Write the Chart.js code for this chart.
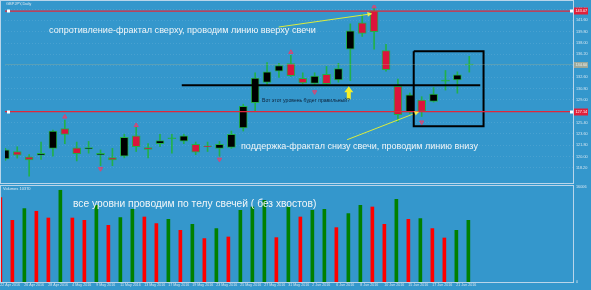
<!DOCTYPE html>
<html>
<head>
<meta charset="utf-8">
<script src="https://cdn.jsdelivr.net/npm/chart.js@4.4.1/dist/chart.umd.min.js"></script>
<style>
  html, body { margin: 0; padding: 0; background: #3497cc; }
  #wrap { position: relative; width: 591px; height: 290px; overflow: hidden; background: #3497cc; font-family: "Liberation Sans", Arial, sans-serif; }
  canvas { position: absolute; left: 0; }
  #price { top: 0; }
  #vol { top: 185px; }
  .frame { position: absolute; border: 1px solid #b9d5ea; box-sizing: border-box; pointer-events: none; }
  .note { position: absolute; white-space: nowrap; color: #f2f6f8; font-size: 10px; line-height: 1; }
  .tiny { position: absolute; white-space: nowrap; color: #dce9f2; font-size: 4px; line-height: 1; }
</style>
</head>
<body>
<div id="wrap">
  <canvas id="price" width="591" height="183"></canvas>
  <canvas id="vol" width="591" height="105"></canvas>
  <div class="frame" style="left:0;top:0;width:574px;height:184px;"></div>
  <div class="frame" style="left:0;top:185px;width:574px;height:98px;"></div>
  <div class="tiny" style="left:6px;top:1.5px;">GBPJPY,Daily</div>
  <div class="tiny" id="volLabel" style="left:3px;top:186.5px;"></div>
  <div class="note" style="left:49px;top:25.6px;font-size:9.1px;">сопротивление-фрактал сверху, проводим линию вверху свечи</div>
  <div class="note" style="left:241px;top:142.4px;font-size:9px;">поддержка-фрактал снизу свечи, проводим линию внизу</div>
  <div class="note" style="left:73px;top:199px;font-size:10.25px;">все уровни проводим по телу свечей ( без хвостов)</div>
  <div class="note" style="left:262px;top:98.2px;font-size:5.1px;color:#0c2038;">Вот этот уровень будет правильный?</div>
</div>
<script>
// свечи (дневные), значения
const openP  = [119.64,120.80,119.94,120.20,121.29,124.44,121.40,121.20,120.24,119.85,120.05,123.30,121.44,122.04,122.90,122.45,121.95,121.70,121.29,121.44,124.55,128.55,131.75,133.55,134.75,132.39,131.60,133.05,132.15,137.04,141.20,143.07,136.80,131.15,127.05,128.94,128.75,132.05,132.15,134.60];
const highP  = [121.30,121.55,120.30,122.30,124.20,125.79,122.30,122.40,121.05,121.29,123.54,124.65,122.04,123.54,123.54,123.54,122.30,122.30,122.40,124.05,128.30,133.29,134.90,134.79,136.05,133.29,133.29,134.30,134.79,141.05,142.55,143.55,137.79,132.30,130.10,129.50,130.95,133.65,133.44,135.90];
const lowP   = [119.40,119.75,116.90,119.55,120.05,122.04,119.30,120.54,118.55,118.55,119.79,120.80,119.79,121.55,120.54,122.04,120.30,120.80,120.05,121.29,124.05,127.29,131.30,132.54,132.70,131.55,131.30,131.30,131.79,132.05,139.05,137.04,133.55,125.55,126.80,126.35,128.64,130.55,130.05,133.40];
const closeP = [121.05,120.20,119.45,120.50,124.05,123.50,120.45,121.44,120.50,119.45,123.05,121.55,121.14,122.55,122.90,123.30,120.69,121.55,121.95,123.54,127.95,132.45,133.44,134.45,132.84,131.70,132.75,131.55,133.95,139.95,139.55,139.80,133.80,126.65,129.80,127.14,129.90,132.05,132.95,134.60];
const volumes = [14190,10370,12340,11890,10760,15420,10760,10370,12890,9530,10830,12220,10930,9820,10540,8690,9700,7300,8980,7570,12050,12610,13730,7460,12610,10930,12050,12220,9140,11500,12890,12610,9700,13900,10540,10660,8980,7400,8690,10370];

// фракталы
const fracUpIdx = [5, 11, 24, 31];
const fracUpVal = [126.30, 124.95, 136.55, 143.79];
const fracDnIdx = [8, 18, 26, 35];
const fracDnVal = [118.05, 119.55, 130.25, 125.45];

// уровни и разметка
const resistance = 143.07;
const support = 127.14;
const levelLine = { from: 14.83, to: 39.92, y: 131.30 };
const box = { x1: 34.33, x2: 40.2, y1: 124.80, y2: 136.70 };
const arrow1 = [{ x: 22.98, y: 140.55 }, { x: 30.81, y: 142.65 }];
const arrow2 = [{ x: 28.73, y: 122.67 }, { x: 34.77, y: 127.10 }];
const bigArrow = { x: 28.87, y: 131.30 };

// шкалы
const priceTicks = [118.2,120.0,121.8,123.6,125.4,127.2,129.0,130.8,132.6,134.4,136.2,138.0,139.8,141.6,143.4];
const volTicks = [0, 16006];
const dateIdx = [0,2,4,6,8,10,12,14,16,18,20,22,24,26,28,30,32,34,36,38];
const dateLabels = ['22 Apr 2016','26 Apr 2016','28 Apr 2016','4 May 2016','9 May 2016','11 May 2016','13 May 2016','17 May 2016','19 May 2016','23 May 2016','25 May 2016','27 May 2016','31 May 2016','2 Jun 2016','6 Jun 2016','8 Jun 2016','10 Jun 2016','15 Jun 2016','17 Jun 2016','21 Jun 2016'];

const X_MIN = -0.03, X_MAX = 47.72;
const GREEN = '#22b04a';
const CRIMSON = '#dc143c';
const FONT = 'Liberation Sans';
const lastClose = closeP[closeP.length - 1];

const idx = openP.map((_, i) => i);
const bodyColors = idx.map(i => closeP[i] > openP[i] ? '#000000' : (closeP[i] < openP[i] ? CRIMSON : GREEN));
const bodies = idx.map(i => {
  if (openP[i] === closeP[i]) return { x: i, y: [openP[i] - 0.08, openP[i] + 0.08] };
  return { x: i, y: [openP[i], closeP[i]] };
});
const volColors = volumes.map((v, i) => (i > 0 && v > volumes[i - 1]) ? '#008000' : '#ff0000');
document.getElementById('volLabel').textContent = 'Volumes ' + volumes[volumes.length - 1];

function hline(y, color, width) {
  return { type: 'line', data: [{ x: X_MIN - 1, y: y }, { x: X_MAX + 1, y: y }], borderColor: color, borderWidth: width, pointRadius: 0, order: 0 };
}

const marks = {
  id: 'marks',
  afterDraw(chart) {
    const { ctx, scales: { x, y }, chartArea } = chart;
    ctx.save();
    // наконечники жёлтых линий
    [arrow1, arrow2].forEach(a => {
      const x0 = x.getPixelForValue(a[0].x), y0 = y.getPixelForValue(a[0].y);
      const x1 = x.getPixelForValue(a[1].x), y1 = y.getPixelForValue(a[1].y);
      const ang = Math.atan2(y1 - y0, x1 - x0);
      ctx.fillStyle = '#eef048';
      ctx.beginPath();
      ctx.moveTo(x1, y1);
      ctx.lineTo(x1 - 5 * Math.cos(ang - 0.5), y1 - 5 * Math.sin(ang - 0.5));
      ctx.lineTo(x1 - 5 * Math.cos(ang + 0.5), y1 - 5 * Math.sin(ang + 0.5));
      ctx.closePath();
      ctx.fill();
    });
    // большая жёлтая стрелка
    const ax = x.getPixelForValue(bigArrow.x), ay = y.getPixelForValue(bigArrow.y) + 1;
    ctx.fillStyle = '#f4f02a';
    ctx.beginPath();
    ctx.moveTo(ax, ay);
    ctx.lineTo(ax + 4.5, ay + 6);
    ctx.lineTo(ax + 2, ay + 6);
    ctx.lineTo(ax + 2, ay + 13);
    ctx.lineTo(ax - 2, ay + 13);
    ctx.lineTo(ax - 2, ay + 6);
    ctx.lineTo(ax - 4.5, ay + 6);
    ctx.closePath();
    ctx.fill();
    // квадратики на концах уровней и метки цены
    [resistance, support].forEach(v => {
      const py = Math.round(y.getPixelForValue(v));
      ctx.fillStyle = '#ffffff';
      ctx.fillRect(chartArea.left + 2, py - 1.5, 3, 3);
      ctx.fillRect(chartArea.right - 3, py - 1.5, 3, 3);
      ctx.fillStyle = '#e0203a';
      ctx.fillRect(chartArea.right + 1, py - 3.5, 14, 7);
      ctx.fillStyle = '#ffffff';
      ctx.font = '3.8px ' + FONT;
      ctx.textBaseline = 'middle';
      ctx.fillText(v.toFixed(2), chartArea.right + 2.5, py);
    });
    const by = Math.round(y.getPixelForValue(lastClose));
    ctx.fillStyle = 'rgba(165,170,150,0.9)';
    ctx.fillRect(chartArea.right + 1, by - 3, 14, 6);
    ctx.fillStyle = '#eeeeea';
    ctx.font = '3.8px ' + FONT;
    ctx.textBaseline = 'middle';
    ctx.fillText(lastClose.toFixed(2), chartArea.right + 2.5, by);
    ctx.restore();
  }
};

new Chart(document.getElementById('price'), {
  type: 'bar',
  data: {
    datasets: [
      hline(resistance, '#e0283c', 1.3),
      hline(support, '#e0283c', 1.3),
      hline(lastClose, 'rgba(175,180,140,0.3)', 1),
      { type: 'line', data: [{ x: levelLine.from, y: levelLine.y }, { x: levelLine.to, y: levelLine.y }], borderColor: '#000000', borderWidth: 2, pointRadius: 0, order: 0 },
      { type: 'line', data: [{ x: box.x1, y: box.y2 }, { x: box.x2, y: box.y2 }, { x: box.x2, y: box.y1 }, { x: box.x1, y: box.y1 }, { x: box.x1, y: box.y2 }], borderColor: '#000000', borderWidth: 2, pointRadius: 0, order: 0 },
      { type: 'line', data: arrow1, borderColor: '#dcec3c', borderWidth: 1, pointRadius: 0, order: 0 },
      { type: 'line', data: arrow2, borderColor: '#dcec3c', borderWidth: 1, pointRadius: 0, order: 0 },
      { type: 'line', showLine: false, data: fracUpIdx.map((v, k) => ({ x: v, y: fracUpVal[k] })), pointStyle: 'triangle', pointRadius: 2.4, pointBackgroundColor: 'rgba(230,70,110,0.55)', pointBorderColor: '#e04070', pointBorderWidth: 1, order: 1 },
      { type: 'line', showLine: false, data: fracDnIdx.map((v, k) => ({ x: v, y: fracDnVal[k] })), pointStyle: 'triangle', rotation: 180, pointRadius: 2.4, pointBackgroundColor: 'rgba(230,70,110,0.55)', pointBorderColor: '#e04070', pointBorderWidth: 1, order: 1 },
      { data: bodies, backgroundColor: bodyColors, borderColor: GREEN, borderWidth: 1, borderSkipped: false, barThickness: 8, grouped: false, order: 2 },
      { data: idx.map(i => ({ x: i, y: [lowP[i], highP[i]] })), backgroundColor: GREEN, barThickness: 1, grouped: false, order: 3 }
    ]
  },
  options: {
    responsive: false,
    animation: false,
    plugins: { legend: { display: false }, tooltip: { enabled: false } },
    layout: { padding: 0 },
    scales: {
      x: { type: 'linear', display: false, min: X_MIN, max: X_MAX, offset: false },
      y: {
        position: 'right', min: 116.595, max: 144.045,
        afterBuildTicks: s => { s.ticks = priceTicks.map(v => ({ value: v })); },
        afterFit: s => { s.width = 18; s.paddingTop = 0; s.paddingBottom = 0; },
        ticks: { callback: v => v.toFixed(2), color: '#d6e6f1', font: { size: 3.8, family: FONT }, padding: 3 },
        grid: { color: 'rgba(255,255,255,0.10)', drawTicks: false },
        border: { display: false, dash: [1, 2] }
      }
    }
  },
  plugins: [marks]
});

new Chart(document.getElementById('vol'), {
  type: 'bar',
  data: {
    datasets: [{ data: volumes.map((v, i) => ({ x: i, y: v })), backgroundColor: volColors, barThickness: 3, grouped: false }]
  },
  options: {
    responsive: false,
    animation: false,
    plugins: { legend: { display: false }, tooltip: { enabled: false } },
    layout: { padding: { top: 1 } },
    scales: {
      x: {
        type: 'linear', min: X_MIN, max: X_MAX, offset: false,
        afterBuildTicks: s => { s.ticks = dateIdx.map(v => ({ value: v })); },
        afterFit: s => { s.height = 8; s.paddingLeft = 0; s.paddingRight = 0; },
        ticks: { autoSkip: false, maxRotation: 0, align: 'start', padding: 1, color: '#d4e4ee', font: { size: 3.6, family: FONT }, callback: (v, i) => dateLabels[i] },
        grid: { display: false, drawTicks: false },
        border: { display: false }
      },
      y: {
        position: 'right', min: 0, max: 16140,
        afterBuildTicks: s => { s.ticks = volTicks.map(v => ({ value: v })); },
        afterFit: s => { s.width = 18; s.paddingTop = 0; s.paddingBottom = 0; },
        ticks: { callback: v => String(v), color: '#d6e6f1', font: { size: 3.8, family: FONT }, padding: 3 },
        grid: { display: false, drawTicks: false },
        border: { display: false }
      }
    }
  }
});
</script>
</body>
</html>
